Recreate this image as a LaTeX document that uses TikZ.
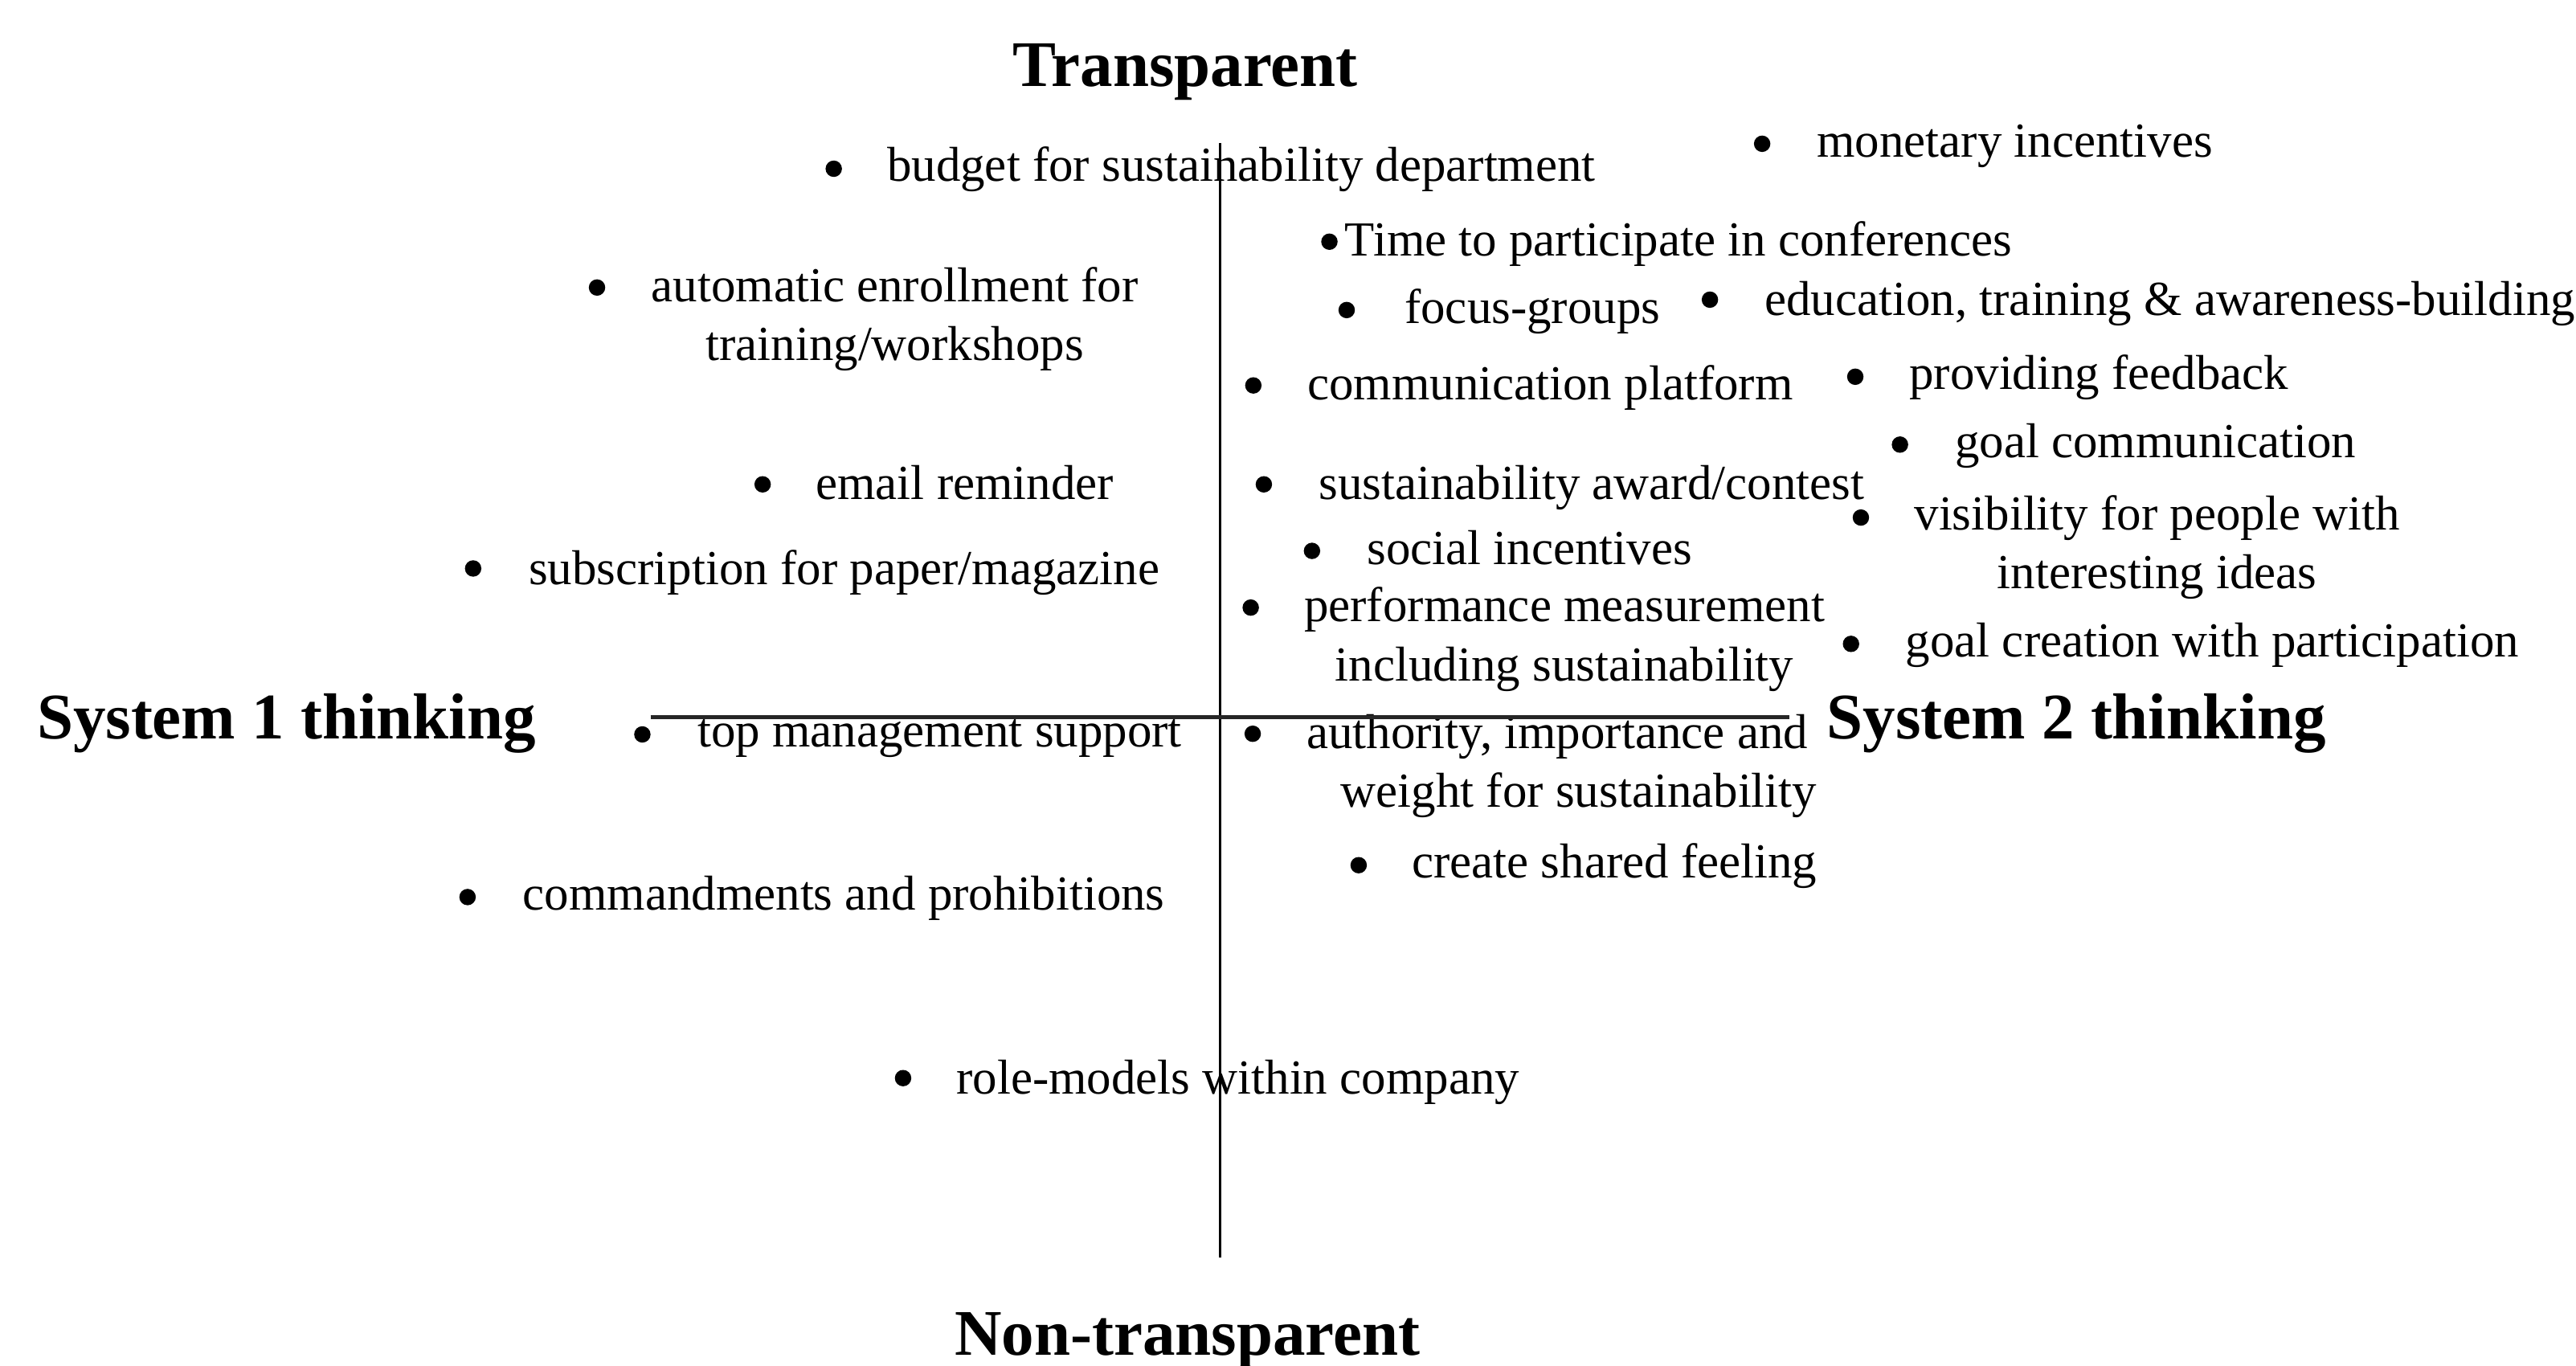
\documentclass[tikz,border=0pt]{standalone}
\usepackage{fontspec}
\setmainfont{Liberation Serif}
\newcommand\itmsize{\fontsize{29.8pt}{36pt}\selectfont}
\newcommand\axsize{\fontsize{39.6pt}{46pt}\selectfont\bfseries}
\begin{document}
\begin{tikzpicture}[x=1pt,y=-1pt,
  txt/.style={inner sep=0pt, outer sep=0pt, font=\itmsize, anchor=base west},
  blk/.style={inner sep=0pt, outer sep=0pt, font=\itmsize, anchor=base},
  axlabel/.style={inner sep=0pt, outer sep=0pt, font=\axsize, anchor=base},
  dot/.style={fill=black},
  vaxis/.style={draw=black, line width=1.5pt},
  haxis/.style={draw=black!85, line width=2.4pt}]
\useasboundingbox (0,0) rectangle (1568,831);

% axis labels
\node[axlabel] (transp) at (721.5,52.5) {Transparent};
\node[axlabel] (nontransp) at (722.8,825) {Non-transparent};
\node[axlabel, anchor=base west] (sys1) at (22.5,449.5) {System 1 thinking};
\node[axlabel, anchor=base west] (sys2) at (1112,449.5) {System 2 thinking};

% items
\node[txt] (budget) at (540,110.5) {budget for sustainability department};
\node[txt] (monetary) at (1106,95.8) {monetary incentives};
\node[txt] (conf) at (818.7,155.6) {Time to participate in conferences};
\node[blk] (enroll) at (544.7,183.5) {\begin{tabular}[t]{@{}c@{}}automatic enrollment for\\training/workshops\end{tabular}};
\node[txt] (focus) at (855,196.7) {focus-groups};
\node[txt] (educ) at (1074.2,192.1) {education, training \& awareness-building};
\node[txt] (platform) at (795.9,243.1) {communication platform};
\node[txt] (feedback) at (1162.2,237) {providing feedback};
\node[txt] (goalcomm) at (1190,278.5) {goal communication};
\node[txt] (email) at (496.6,304) {email reminder};
\node[txt] (award) at (802.8,304) {sustainability award/contest};
\node[blk] (visib) at (1313,322.3) {\begin{tabular}[t]{@{}c@{}}visibility for people with\\interesting ideas\end{tabular}};
\node[txt] (social) at (832.1,343.8) {social incentives};
\node[txt] (subscr) at (321.9,355.7) {subscription for paper/magazine};
\node[blk] (perf) at (952.3,378.3) {\begin{tabular}[t]{@{}c@{}}performance measurement\\including sustainability\end{tabular}};
\node[txt] (goalcreate) at (1160,399.8) {goal creation with participation};
\node[txt] (topmgmt) at (424.7,454.6) {top management support};
\node[txt] (authority) at (795.3,455.4) {\begin{tabular}[t]{@{}l@{}}authority, importance and\\\hspace*{20.9pt}weight for sustainability\end{tabular}};
\node[txt] (shared) at (859.4,534.5) {create shared feeling};
\node[txt] (commands) at (318.3,553.9) {commandments and prohibitions};
\node[txt] (rolemodels) at (582.2,665.7) {role-models within company};

% bullets
\foreach \bx/\by in {507.5/102.7, 1072.6/87.5, 809.2/147.1, 363.4/175,
  819.7/188.7, 1040.8/182.4, 762.9/234.6, 1129.3/229.3, 1156.5/270.6,
  464.2/294.8, 769.3/294.8, 1132.7/315, 798.6/335.3, 288/346,
  761.3/369.8, 1126.7/391.9, 391/447, 762.5/446.6, 827/526.6,
  284.6/546, 549.7/656.2}
  \fill[dot] (\bx,\by) circle[radius=5pt];

% quadrant axes
\coordinate (vtop) at (742.6,87);
\coordinate (vbot) at (742.6,765.5);
\coordinate (hleft) at (396,436.5);
\coordinate (hright) at (1089,436.5);
\draw[vaxis] (vtop) -- (vbot);
\draw[haxis] (hleft) -- (hright);
\end{tikzpicture}
\end{document}
